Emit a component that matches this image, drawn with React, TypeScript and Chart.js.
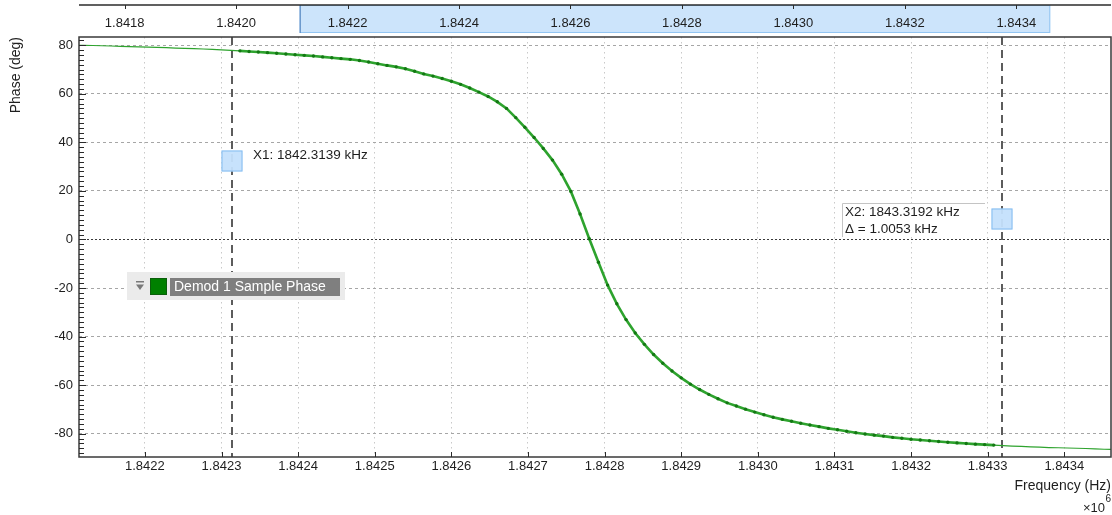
import React, { useEffect, useRef } from "react";
import { Chart, registerables } from "chart.js";

Chart.register(...registerables);

// ---------- data ----------
const SERIES_LABEL = "Demod 1 Sample Phase";
const FREQ_START = 1842108; // Hz, first sample of the sweep
const FREQ_STEP = 12; // Hz between samples
const PHASE = [
  80.0, 79.95, 79.9, 79.8, 79.7, 79.55, 79.45, 79.3, 79.2, 79.1,
  79.0, 78.85, 78.7, 78.6, 78.45, 78.3, 78.1, 77.9, 77.7, 77.45,
  77.2, 76.95, 76.7, 76.4, 76.1, 75.85, 75.55, 75.2, 74.85, 74.5,
  74.2, 73.7, 73.1, 72.4, 71.7, 71.1, 70.3, 69.3, 68.2, 67.3,
  66.3, 65.2, 63.9, 62.4, 60.7, 58.9, 56.7, 54.0, 50.2, 46.2,
  42.0, 37.5, 32.7, 26.9, 19.8, 10.5, 0.3, -9.4, -18.8, -26.5,
  -33.0, -38.5, -43.2, -47.4, -51.0, -54.2, -57.0, -59.6, -61.8, -63.8,
  -65.6, -67.3, -68.6, -69.9, -71.1, -72.2, -73.2, -74.1, -74.9, -75.7,
  -76.4, -77.1, -77.8, -78.4, -79.0, -79.6, -80.1, -80.6, -81.0, -81.5,
  -81.9, -82.3, -82.6, -82.9, -83.2, -83.5, -83.8, -84.05, -84.3, -84.5,
  -84.7, -84.9, -85.1, -85.25, -85.4, -85.55, -85.7, -85.8, -85.9, -86.0,
  -86.1, -86.25, -86.4, -86.5,
];
const FREQS = PHASE.map((_, i) => FREQ_START + i * FREQ_STEP);

const X_MIN = 1842114;
const X_MAX = 1843461;
const Y_MIN = -89.6;
const Y_MAX = 83.4;
const X_TICKS = [
  1842200, 1842300, 1842400, 1842500, 1842600, 1842700, 1842800,
  1842900, 1843000, 1843100, 1843200, 1843300, 1843400,
];
const Y_TICKS = [-80, -60, -40, -20, 0, 20, 40, 60, 80];
const TOP_MIN = 1841718;
const TOP_MAX = 1843570;
const TOP_TICKS = [
  1841800, 1842000, 1842200, 1842400, 1842600, 1842800, 1843000, 1843200, 1843400,
];
const CURSORS = [1842313.9, 1843319.2];

// ---------- styles ----------
const FONT = "'Liberation Sans', Arial, Helvetica, sans-serif";
const LINE_COLOR = "#2ea32e";
const MARKER_COLOR = "#137813";
const TEXT = "#1e1e1e";

const inCursor = (f: number) => f >= CURSORS[0] && f <= CURSORS[1];
const fmtMHz = (v: number) => (v / 1e6).toFixed(4);

function line(ctx: CanvasRenderingContext2D, x0: number, y0: number, x1: number, y1: number) {
  ctx.beginPath();
  ctx.moveTo(x0, y0);
  ctx.lineTo(x1, y1);
  ctx.stroke();
}

const decorPlugin = {
  id: "decor",
  beforeDraw(chart: any) {
    const { ctx, chartArea: ca, scales } = chart;
    const top = scales.xTop;
    ctx.save();
    ctx.fillStyle = "#ffffff";
    ctx.fillRect(0, 0, chart.width, chart.height);
    // overview highlight of the visible range
    const bx0 = top.getPixelForValue(X_MIN);
    const bx1 = top.getPixelForValue(X_MAX);
    ctx.fillStyle = "#cce4fb";
    ctx.fillRect(bx0, 5, bx1 - bx0, 28);
    ctx.strokeStyle = "#93c5f2";
    ctx.lineWidth = 1;
    ctx.strokeRect(bx0 + 0.5, 5.5, bx1 - bx0 - 1, 27);
    ctx.strokeStyle = "#4f7fb8";
    line(ctx, bx0 + 0.5, 5, bx0 + 0.5, 33);
    // overview axis line and ticks
    ctx.strokeStyle = "#2b2b2b";
    ctx.lineWidth = 1.5;
    line(ctx, ca.left, 5, ca.right, 5);
    ctx.lineWidth = 1;
    for (const v of TOP_TICKS) {
      const px = Math.round(top.getPixelForValue(v)) + 0.5;
      line(ctx, px, 5, px, 9);
    }
    ctx.restore();
  },
  beforeDatasetsDraw(chart: any) {
    const { ctx, chartArea: ca, scales } = chart;
    ctx.save();
    ctx.strokeStyle = "#5c5c5c";
    ctx.lineWidth = 2;
    ctx.setLineDash([8, 5]);
    for (const c of CURSORS) {
      const px = Math.round(scales.x.getPixelForValue(c));
      line(ctx, px, ca.top, px, ca.bottom);
    }
    ctx.restore();
  },
  afterDatasetsDraw(chart: any) {
    const { ctx, chartArea: ca, scales } = chart;
    const xs = scales.x;
    const ys = scales.y;
    ctx.save();
    // frame
    ctx.strokeStyle = "#3a3a3a";
    ctx.lineWidth = 1.5;
    ctx.strokeRect(ca.left, ca.top, ca.right - ca.left, ca.bottom - ca.top);
    // y ticks (inward)
    ctx.lineWidth = 1;
    ctx.strokeStyle = "#2a2a2a";
    for (let v = -88; v <= 82; v += 2) {
      const py = Math.round(ys.getPixelForValue(v)) + 0.5;
      const len = v % 20 === 0 ? 7 : 5;
      line(ctx, ca.left, py, ca.left + len, py);
    }
    for (const v of X_TICKS) {
      const px = Math.round(xs.getPixelForValue(v)) + 0.5;
      line(ctx, px, ca.bottom, px, ca.bottom - 5);
    }

    // cursor boxes and labels
    const c1 = Math.round(xs.getPixelForValue(CURSORS[0]));
    const c2 = Math.round(xs.getPixelForValue(CURSORS[1]));
    const drawBox = (cx: number, cy: number) => {
      ctx.fillStyle = "rgba(196,224,252,0.95)";
      ctx.fillRect(cx - 10.5, cy - 10.5, 21, 21);
      ctx.strokeStyle = "#86bdf0";
      ctx.lineWidth = 1;
      ctx.strokeRect(cx - 10, cy - 10, 20, 20);
    };
    ctx.font = `13.5px ${FONT}`;
    ctx.textBaseline = "middle";
    ctx.textAlign = "left";

    const t1 = `X1: ${(CURSORS[0] / 1000).toFixed(4)} kHz`;
    const w1 = ctx.measureText(t1).width;
    ctx.fillStyle = "#ffffff";
    ctx.fillRect(c1 + 19, ca.top + 110, w1 + 6, 16);
    drawBox(c1, ca.top + 124);
    ctx.fillStyle = TEXT;
    ctx.fillText(t1, c1 + 21, ca.top + 118.5);

    const t2 = `X2: ${(CURSORS[1] / 1000).toFixed(4)} kHz`;
    const t3 = `\u0394 = ${((CURSORS[1] - CURSORS[0]) / 1000).toFixed(4)} kHz`;
    const fx0 = c2 - 160;
    const fx1 = c2 - 17;
    const fy0 = ca.top + 166;
    const fy1 = ca.top + 200;
    ctx.fillStyle = "#ffffff";
    ctx.fillRect(fx0, fy0, fx1 - fx0, fy1 - fy0);
    ctx.strokeStyle = "#c4c4c4";
    ctx.lineWidth = 1;
    line(ctx, fx0 + 0.5, fy0 + 0.5, fx1, fy0 + 0.5);
    line(ctx, fx0 + 0.5, fy0 + 0.5, fx0 + 0.5, fy1);
    ctx.fillStyle = TEXT;
    ctx.fillText(t2, fx0 + 3, fy0 + 9.5);
    ctx.fillText(t3, fx0 + 3, fy0 + 26);
    drawBox(c2, ca.top + 182);
    ctx.restore();
  },
  afterDraw(chart: any) {
    const { ctx, chartArea: ca } = chart;
    const ds = chart.data.datasets[0];
    ctx.save();
    // legend
    const lx = ca.left + 48;
    const ly = ca.top + 235;
    ctx.fillStyle = "#ebebeb";
    ctx.fillRect(lx, ly, 218, 28);
    ctx.fillStyle = "#7a7a7a";
    ctx.fillRect(lx + 9, ly + 9, 8, 1.5);
    ctx.beginPath();
    ctx.moveTo(lx + 9, ly + 12.5);
    ctx.lineTo(lx + 17, ly + 12.5);
    ctx.lineTo(lx + 13, ly + 18);
    ctx.closePath();
    ctx.fill();
    ctx.fillStyle = "#008000";
    ctx.fillRect(lx + 23, ly + 6, 17, 17);
    ctx.strokeStyle = "#0b5e0b";
    ctx.lineWidth = 1;
    ctx.strokeRect(lx + 23.5, ly + 6.5, 16, 16);
    ctx.fillStyle = "#7f7f7f";
    ctx.fillRect(lx + 43, ly + 6, 170, 18);
    ctx.fillStyle = "#ffffff";
    ctx.font = `14px ${FONT}`;
    ctx.textBaseline = "middle";
    ctx.textAlign = "left";
    ctx.fillText(ds.label, lx + 47, ly + 15.5);

    // x multiplier
    ctx.fillStyle = TEXT;
    ctx.textAlign = "right";
    ctx.font = `10px ${FONT}`;
    ctx.fillText("6", ca.right, chart.height - 16);
    ctx.font = `13px ${FONT}`;
    ctx.fillText("\u00d710", ca.right - 6, chart.height - 7);
    ctx.restore();
  },
};

export default function App() {
  const canvasRef = useRef<HTMLCanvasElement | null>(null);

  useEffect(() => {
    const canvas = canvasRef.current;
    if (!canvas) return;
    Chart.defaults.font.family = FONT;
    Chart.defaults.color = TEXT;

    const chart = new Chart(canvas, {
      type: "line",
      data: {
        datasets: [
          {
            label: SERIES_LABEL,
            data: FREQS.map((f, i) => ({ x: f, y: PHASE[i] })),
            xAxisID: "x",
            yAxisID: "y",
            borderColor: LINE_COLOR,
            borderWidth: 1.2,
            tension: 0,
            segment: {
              borderWidth: (c: any) =>
                inCursor(c.p0.parsed.x) && inCursor(c.p1.parsed.x) ? 2.6 : 1.2,
            },
            pointStyle: "circle",
            pointRadius: (c: any) => (c.parsed && inCursor(c.parsed.x) ? 1.7 : 0),
            pointBackgroundColor: MARKER_COLOR,
            pointBorderWidth: 0,
            pointHoverRadius: 0,
          } as any,
        ],
      },
      options: {
        animation: false,
        responsive: false,
        maintainAspectRatio: false,
        events: [],
        layout: { padding: { left: 0, right: 1, top: 0, bottom: 0 } },
        plugins: { legend: { display: false }, tooltip: { enabled: false } },
        scales: {
          xTop: {
            type: "linear",
            position: "top",
            min: TOP_MIN,
            max: TOP_MAX,
            grid: { display: false, drawTicks: false, drawOnChartArea: false },
            border: { display: false },
            ticks: {
              padding: 6,
              autoSkip: false,
              maxRotation: 0,
              font: { size: 13 },
              color: TEXT,
              callback: (v: any) => fmtMHz(Number(v)),
            },
            afterBuildTicks: (s: any) => {
              s.ticks = TOP_TICKS.map((v) => ({ value: v }));
            },
            afterFit: (s: any) => {
              s.height = 37;
            },
          },
          x: {
            type: "linear",
            position: "bottom",
            min: X_MIN,
            max: X_MAX,
            grid: { color: "#c9c9c9", lineWidth: 1, drawTicks: false },
            border: { display: false, dash: [1.5, 3.5] },
            ticks: {
              padding: 2,
              autoSkip: false,
              maxRotation: 0,
              font: { size: 13 },
              color: TEXT,
              callback: (v: any) => fmtMHz(Number(v)),
            },
            afterBuildTicks: (s: any) => {
              s.ticks = X_TICKS.map((v) => ({ value: v }));
            },
            title: {
              display: true,
              text: "Frequency (Hz)",
              align: "end",
              color: TEXT,
              font: { size: 14 },
              padding: { top: 0, bottom: 20 },
            },
            afterFit: (s: any) => {
              s.height = 58;
            },
          },
          y: {
            type: "linear",
            position: "left",
            min: Y_MIN,
            max: Y_MAX,
            grid: {
              color: (c: any) => (c.tick && c.tick.value === 0 ? "#3a3a3a" : "#a6a6a6"),
              lineWidth: 1,
              drawTicks: false,
            },
            border: {
              display: false,
              dash: (c: any) => (c.tick && c.tick.value === 0 ? [2, 2] : [3, 3]),
            },
            ticks: {
              padding: 6,
              font: { size: 13 },
              color: TEXT,
              callback: (v: any) => String(v),
            },
            afterBuildTicks: (s: any) => {
              s.ticks = Y_TICKS.map((v) => ({ value: v }));
            },
            title: {
              display: true,
              text: "Phase (deg)",
              align: "end",
              color: TEXT,
              font: { size: 14 },
              padding: { top: 8, bottom: 0 },
            },
            afterFit: (s: any) => {
              s.width = 79;
            },
          },
        },
      } as any,
      plugins: [decorPlugin as any],
    });
    return () => chart.destroy();
  }, []);

  return (
    <div style={{ position: "fixed", left: 0, top: 0, width: 1112, height: 515, background: "#fff" }}>
      <canvas ref={canvasRef} width={1112} height={515} style={{ display: "block" }} />
    </div>
  );
}
